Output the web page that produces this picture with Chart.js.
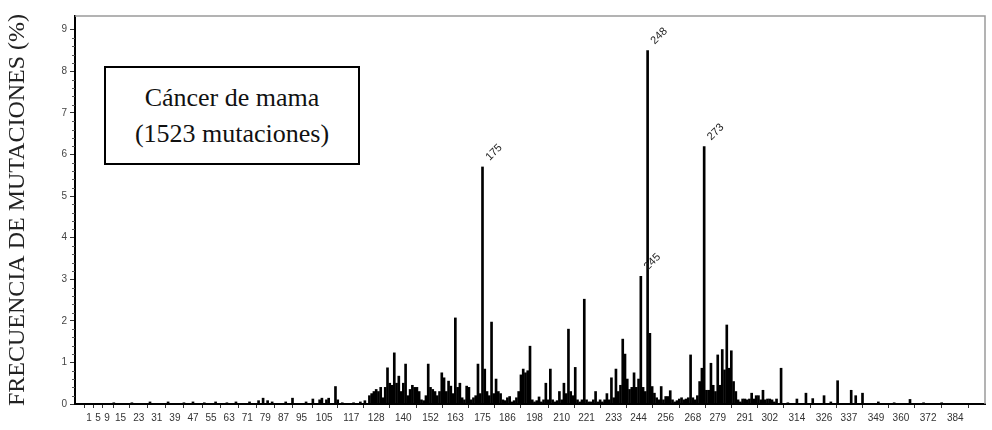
<!DOCTYPE html>
<html>
<head>
<meta charset="utf-8">
<script src="https://cdn.jsdelivr.net/npm/chart.js@4/dist/chart.umd.min.js"></script>
<style>
    html, body { margin: 0; background: #fff; }
    #wrap { position: relative; width: 992px; height: 430px; }
    .note {
        position: absolute; left: 104px; top: 66px; width: 256px; height: 99px;
        border: 2px solid #000; box-sizing: border-box; background: #fff;
        font-family: "Liberation Serif", serif; font-size: 26px; line-height: 36px;
        text-align: center; padding-top: 12px; color: #111;
    }
</style>
</head>
<body>
<div id="wrap">
    <canvas id="chart" width="992" height="430"></canvas>
    <div class="note">Cáncer de mama<br>(1523 mutaciones)</div>
</div>
<script>
// codon numbers and mutation frequency (%)
const codons = [
    12, 20, 28, 36, 43, 47, 52, 57, 62, 66, 72, 76, 78, 80, 82, 88, 91, 97, 100, 103,
    104, 106, 107, 110, 111, 113, 118, 121, 123, 125, 126,
    127, 128, 129, 130, 131, 132, 133, 134, 135, 136, 137, 138, 139, 140, 141, 142, 143, 144, 145,
    146, 147, 148, 149, 150, 151, 152, 153, 154, 155, 156, 157, 158, 159, 160, 161, 162, 163, 164, 165,
    166, 167, 168, 169, 170, 171, 172, 173, 174, 175, 176, 177, 178, 179, 180, 181, 182, 183, 184, 185,
    186, 187, 188, 189, 190, 191, 192, 193, 194, 195, 196, 197, 198, 199, 200, 201, 202, 203, 204, 205,
    206, 207, 208, 209, 210, 211, 212, 213, 214, 215, 216, 217, 218, 219, 220, 221, 222, 223, 224, 225,
    226, 227, 228, 229, 230, 231, 232, 233, 234, 235, 236, 237, 238, 239, 240, 241, 242, 243, 244, 245,
    246, 247, 248, 249, 250, 251, 252, 253, 254, 255, 256, 257, 258, 259, 260, 261, 262, 263, 264, 265,
    266, 267, 268, 269, 270, 271, 272, 273, 274, 275, 276, 277, 278, 279, 280, 281, 282, 283, 284, 285,
    286, 287, 288, 289, 290, 291, 292, 293, 294, 295, 296, 297, 298, 299, 300, 301, 302, 303, 304, 305,
    307, 310, 314, 318, 321, 326, 329, 332, 338, 340, 343, 350, 357, 364, 370, 378
];
const freq = [
    0.03, 0.03, 0.05, 0.05, 0.03, 0.05, 0.03, 0.05, 0.03, 0.05, 0.05, 0.08, 0.14, 0.08, 0.05, 0.05, 0.14, 0.05, 0.12, 0.1,
    0.14, 0.1, 0.14, 0.42, 0.1, 0.03, 0.03, 0.05, 0.08, 0.2, 0.25,
    0.3, 0.35, 0.3, 0.4, 0.15, 0.4, 0.87, 0.5, 0.45, 1.23, 0.5, 0.67, 0.3, 0.5, 0.96, 0.2, 0.35, 0.45, 0.4,
    0.4, 0.3, 0.1, 0.08, 0.2, 0.96, 0.4, 0.35, 0.3, 0.2, 0.3, 0.75, 0.63, 0.3, 0.55, 0.43, 0.25, 2.07, 0.4, 0.5,
    0.15, 0.1, 0.43, 0.4, 0.1, 0.15, 0.2, 0.96, 0.25, 5.7, 0.84, 0.3, 0.2, 1.97, 0.25, 0.6, 0.3, 0.25, 0.1, 0.08,
    0.15, 0.18, 0.05, 0.08, 0.15, 0.3, 0.7, 0.84, 0.75, 0.8, 1.39, 0.1, 0.05, 0.08, 0.17, 0.05, 0.1, 0.5, 0.1, 0.84,
    0.1, 0.05, 0.08, 0.3, 0.1, 0.5, 0.25, 1.8, 0.3, 0.2, 0.88, 0.1, 0.05, 0.1, 2.52, 0.1, 0.05, 0.05, 0.1, 0.3,
    0.05, 0.1, 0.05, 0.1, 0.25, 0.1, 0.63, 0.15, 0.84, 0.3, 0.45, 1.56, 1.2, 0.6, 0.35, 0.4, 0.75, 0.4, 0.6, 3.07,
    0.4, 0.3, 8.5, 1.7, 0.42, 0.26, 0.15, 0.1, 0.42, 0.1, 0.18, 0.18, 0.32, 0.1, 0.05, 0.08, 0.12, 0.15, 0.1, 0.12,
    0.15, 1.18, 0.15, 0.1, 0.2, 0.54, 0.86, 6.19, 0.33, 0.33, 0.98, 0.45, 0.3, 1.18, 0.45, 1.31, 0.82, 1.9, 0.86, 1.28,
    0.54, 0.3, 0.1, 0.05, 0.12, 0.12, 0.1, 0.12, 0.26, 0.12, 0.2, 0.2, 0.1, 0.33, 0.1, 0.12, 0.12, 0.1, 0.05, 0.12,
    0.86, 0.03, 0.12, 0.26, 0.13, 0.2, 0.05, 0.56, 0.33, 0.2, 0.26, 0.05, 0.03, 0.11, 0.03, 0.03
];
const xTickLabels = [1, 5, 9, 15, 23, 31, 39, 47, 55, 63, 71, 79, 87, 95, 105, 117, 128, 140, 152, 163,
    175, 186, 198, 210, 221, 233, 244, 256, 268, 279, 291, 302, 314, 326, 337, 349, 360, 372, 384];
const yTickLabels = [0, 1, 2, 3, 4, 5, 6, 7, 8, 9];
const peakLabels = [175, 245, 248, 273];

const tickFont = { family: 'Liberation Sans', size: 10 };

// top/right frame, minor y ticks and the rotated codon labels over the peaks
const extras = {
    id: 'extras',
    afterDraw(chart) {
        const { ctx, chartArea: a, scales: { x, y } } = chart;
        ctx.save();
        ctx.strokeStyle = '#9a9a9a';
        ctx.lineWidth = 1.5;
        ctx.beginPath();
        ctx.moveTo(a.left, a.top);
        ctx.lineTo(a.right, a.top);
        ctx.lineTo(a.right, a.bottom);
        ctx.stroke();

        ctx.strokeStyle = '#555';
        ctx.lineWidth = 1;
        for (let i = 0; i < yTickLabels.length - 1; i++) {
            for (let k = 1; k < 5; k++) {
                const py = Math.round(y.getPixelForValue(yTickLabels[i] + k * 0.2)) + 0.5;
                ctx.beginPath();
                ctx.moveTo(a.left - 3, py);
                ctx.lineTo(a.left, py);
                ctx.stroke();
            }
        }

        ctx.fillStyle = '#222';
        ctx.font = '11px "Liberation Sans"';
        ctx.textAlign = 'left';
        ctx.textBaseline = 'middle';
        peakLabels.forEach(c => {
            const v = freq[codons.indexOf(c)];
            const px = x.getPixelForValue(c);
            const py = y.getPixelForValue(v);
            ctx.save();
            ctx.translate(px + 5, py - 8);
            ctx.rotate(-Math.PI / 4);
            ctx.fillText(String(c), 0, 0);
            ctx.restore();
        });
        ctx.restore();
    }
};

new Chart(document.getElementById('chart'), {
    type: 'bar',
    data: {
        datasets: [{
            data: codons.map((c, i) => ({ x: c, y: freq[i] })),
            backgroundColor: '#000',
            barThickness: 2
        }]
    },
    options: {
        responsive: false,
        animation: false,
        layout: { padding: { top: 16, right: 7, left: 0, bottom: 0 } },
        plugins: { legend: { display: false }, tooltip: { enabled: false } },
        scales: {
            x: {
                type: 'linear',
                min: 0,
                max: 392,
                afterBuildTicks: scale => { scale.ticks = xTickLabels.map(v => ({ value: v })); },
                afterFit: scale => { scale.height = 26; },
                ticks: { autoSkip: false, maxRotation: 0, padding: 4, color: '#333', font: tickFont },
                grid: { drawOnChartArea: false, tickLength: 4, color: '#333' },
                border: { color: '#000', width: 2 }
            },
            y: {
                min: 0,
                max: 9.33,
                afterBuildTicks: scale => { scale.ticks = yTickLabels.map(v => ({ value: v })); },
                afterFit: scale => { scale.width = 75; },
                ticks: { padding: 3, color: '#444', font: tickFont },
                grid: { drawOnChartArea: false, tickLength: 5, color: '#333' },
                border: { color: '#000', width: 2 },
                title: {
                    display: true,
                    text: 'FRECUENCIA DE MUTACIONES (%)',
                    color: '#222',
                    font: { family: 'Liberation Serif', size: 24 },
                    padding: { top: 3, bottom: 0 }
                }
            }
        }
    },
    plugins: [extras]
});
</script>
</body>
</html>
